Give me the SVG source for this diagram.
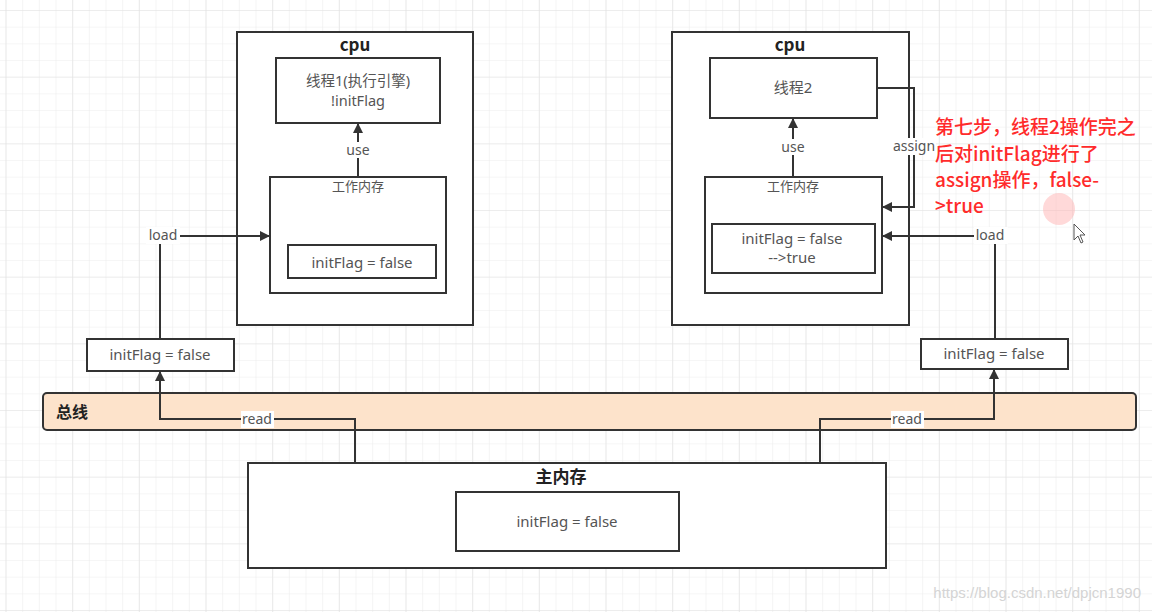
<svg xmlns="http://www.w3.org/2000/svg" width="1152" height="612" viewBox="0 0 1152 612">
<style>
.box{fill:#fff;stroke:#333;stroke-width:2}
.t{font-family:"Noto Sans","Noto Sans CJK SC",sans-serif;font-size:15px;fill:#555;text-anchor:middle}
.sm{font-size:13px}
.b{font-family:"Noto Sans CJK SC","Noto Sans",sans-serif;font-weight:bold;font-size:17px;fill:#222;text-anchor:middle}
.ln{fill:none;stroke:#333;stroke-width:2}
.lbl{font-family:"Noto Sans",sans-serif;font-size:14px;fill:#555;text-anchor:middle}
.red{font-family:"Noto Sans CJK SC","Noto Sans",sans-serif;font-size:19px;fill:#ff2b2b;font-weight:500}
</style>
<defs>
<pattern id="minor" x="5.5" y="10" width="16.667" height="16.667" patternUnits="userSpaceOnUse">
<path d="M0 0H16.667M0 0V16.667" fill="none" stroke="#ededed" stroke-width="1.2"/>
</pattern>
<pattern id="major" x="5.5" y="10" width="66.667" height="66.667" patternUnits="userSpaceOnUse">
<path d="M0 0H66.667M0 0V66.667" fill="none" stroke="#e3e3e3" stroke-width="1.2"/>
</pattern>
<marker id="ah" markerWidth="10" markerHeight="10" refX="9" refY="5" orient="auto" markerUnits="userSpaceOnUse">
<path d="M0 0L10 5L0 10z" fill="#333"/>
</marker>
</defs>
<rect width="1152" height="612" fill="#fff"/>
<rect width="1152" height="612" fill="url(#minor)"/>
<rect width="1152" height="612" fill="url(#major)"/>

<g id="bus">
<rect x="43" y="393" width="1093" height="37" rx="4" fill="#fde3cb" stroke="#333" stroke-width="2"/>
<text x="72" y="418" class="b" style="font-size:16px">总线</text>
</g>

<g id="cpu1">
<rect x="237" y="32" width="236" height="293" class="box"/>
<text x="355" y="51" class="b">cpu</text>
</g>
<g id="thread1">
<rect x="276" y="58" width="164" height="65" class="box"/>
<text x="358" y="86" class="t" style="font-size:14.5px">线程1(执行引擎)</text>
<text x="358" y="106" class="t" style="font-size:14.5px">!initFlag</text>
</g>
<g id="workmem1">
<rect x="270" y="177" width="176" height="116" class="box"/>
<text x="358" y="191" class="t sm">工作内存</text>
</g>
<g id="local1">
<rect x="288" y="245" width="148" height="33" class="box"/>
<text x="362" y="268" class="t">initFlag = false</text>
</g>

<g id="cpu2">
<rect x="672" y="32" width="237" height="293" class="box"/>
<text x="790" y="51" class="b">cpu</text>
</g>
<g id="thread2">
<rect x="710" y="58" width="167" height="60" class="box"/>
<text x="793" y="93" class="t">线程2</text>
</g>
<g id="workmem2">
<rect x="705" y="177" width="177" height="116" class="box"/>
<text x="793" y="191" class="t sm">工作内存</text>
</g>
<g id="local2">
<rect x="712" y="224" width="163" height="49" class="box"/>
<text x="792" y="244" class="t">initFlag = false</text>
<text x="792" y="263" class="t">--&gt;true</text>
</g>

<g id="copy1">
<rect x="87" y="339" width="147" height="32" class="box"/>
<text x="160" y="360" class="t">initFlag = false</text>
</g>
<g id="copy2">
<rect x="921" y="339" width="147" height="30" class="box"/>
<text x="994" y="359" class="t">initFlag = false</text>
</g>

<g id="mainmem">
<rect x="248" y="463" width="638" height="105" class="box"/>
<text x="561" y="483" class="b">主内存</text>
</g>
<g id="mainvar">
<rect x="456" y="492" width="223" height="59" class="box"/>
<text x="567" y="527" class="t">initFlag = false</text>
</g>

<g id="connectors">
<path d="M358 177V124" class="ln" marker-end="url(#ah)"/>
<rect x="343" y="142" width="30" height="16" fill="#fff"/>
<text x="358" y="155" class="lbl">use</text>

<path d="M793 177V119" class="ln" marker-end="url(#ah)"/>
<rect x="778" y="139" width="30" height="16" fill="#fff"/>
<text x="793" y="152" class="lbl">use</text>

<path d="M160 339V236H269" class="ln" marker-end="url(#ah)"/>
<rect x="146" y="227" width="34" height="17" fill="#fff"/>
<text x="163" y="240" class="lbl">load</text>

<path d="M995 339V236H883" class="ln" marker-end="url(#ah)"/>
<rect x="974" y="227" width="34" height="17" fill="#fff"/>
<text x="990" y="240" class="lbl">load</text>

<path d="M877 88H914V207H883" class="ln" marker-end="url(#ah)"/>
<rect x="892" y="138" width="44" height="17" fill="#fff"/>
<text x="914" y="151" class="lbl">assign</text>

<path d="M355 463V419H160V372" class="ln" marker-end="url(#ah)"/>
<rect x="241" y="411" width="33" height="17" fill="#fff"/>
<text x="257" y="424" class="lbl">read</text>

<path d="M820 463V419H994V370" class="ln" marker-end="url(#ah)"/>
<rect x="891" y="411" width="33" height="17" fill="#fff"/>
<text x="907" y="424" class="lbl">read</text>
</g>

<g id="note">
<text x="935" y="134" class="red">第七步，线程2操作完之</text>
<text x="935" y="161" class="red">后对initFlag进行了</text>
<text x="935" y="187" class="red">assign操作，false-</text>
<text x="935" y="213" class="red">&gt;true</text>
</g>
<circle cx="1059" cy="209" r="16" fill="#ffb3b3" opacity="0.5"/>
<path d="M1074 224L1074 240L1078 236L1081 243L1083 242L1080 235L1085 235Z" fill="#fff" stroke="#555" stroke-width="1"/>
<text x="1141" y="598" font-family="Liberation Sans,Arial,sans-serif" font-size="15" fill="#d4d4d4" text-anchor="end">https://blog.csdn.net/dpjcn1990</text>
</svg>
